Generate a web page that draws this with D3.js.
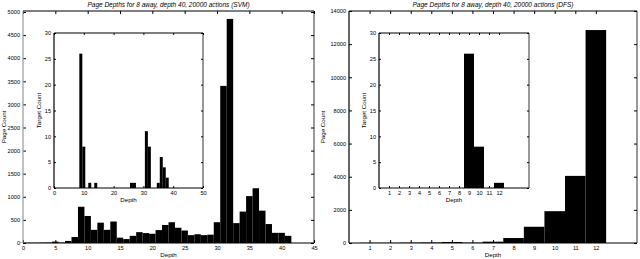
<!DOCTYPE html>
<html>
<head>
<meta charset="utf-8">
<script src="https://cdn.jsdelivr.net/npm/d3@7"></script>
<style>
body { margin: 0; background: #fff; }
svg { display: block; font-family: "Liberation Sans", Arial, sans-serif; }
</style>
</head>
<body>
<script>
// SVM run: page count per depth (main) and target count per depth (inset)
var svmDepth = [0,1,2,3,4,5,6,7,8,9,10,11,12,13,14,15,16,17,18,19,20,
                21,22,23,24,25,26,27,28,29,30,31,32,33,34,35,36,37,38,39,40,41];
var svmPages = [5,5,5,8,10,30,10,45,130,785,585,285,440,285,465,115,85,155,235,215,200,
                280,390,450,330,270,170,190,170,180,450,3400,4850,430,680,1015,1185,700,410,220,220,155];
var svmTargetDepth = [9,10,12,14,26,27,31,32,35,36,37,38];
var svmTargets     = [26,8,1,1,1,1,11,8,1,6,4,2];

// DFS run
var dfsDepth = [1,2,3,4,5,6,7,8,9,10,11,12];
var dfsPages = [10,10,20,30,60,20,80,300,980,1920,4050,12850];
var dfsTargetDepth = [9,10,11,12];
var dfsTargets     = [26,8,0,1];

// tick labels
var svmXTicks = [0,5,10,15,20,25,30,35,40,45];
var svmYTicks = [0,500,1000,1500,2000,2500,3000,3500,4000,4500,5000];
var svmInsetXTicks = [0,10,20,30,40,50];
var dfsXTicks = [1,2,3,4,5,6,7,8,9,10,11,12];
var dfsYTicks = [0,2000,4000,6000,8000,10000,12000,14000];
var insetYTicks = [0,5,10,15,20,25,30];

var titles = ["Page Depths for 8 away, depth 40, 20000 actions (SVM)",
              "Page Depths for 8 away, depth 40, 20000 actions (DFS)"];

var svg = d3.select("body").append("svg")
    .attr("width", 640)
    .attr("height", 259);

function plot(box, xDomain, yDomain, xs, ys, xTicks, yTicks, opt) {
    var x = d3.scaleLinear().domain(xDomain).range([box.x0, box.x1]);
    var y = d3.scaleLinear().domain(yDomain).range([box.y1, box.y0]);
    var g = svg.append("g");
    var tk = opt.tick || 3;

    if (opt.fillBg) {
        g.append("rect")
            .attr("x", box.x0).attr("y", box.y0)
            .attr("width", box.x1 - box.x0).attr("height", box.y1 - box.y0)
            .attr("fill", "#fff");
    }

    g.selectAll("rect.bar")
        .data(xs)
        .enter()
        .append("rect")
        .attr("class", "bar")
        .attr("x", function(d) { return x(d - 0.5); })
        .attr("width", function(d) { return x(d + 0.5) - x(d - 0.5); })
        .attr("y", function(d, i) { return y(ys[i]); })
        .attr("height", function(d, i) { return y(0) - y(ys[i]); })
        .attr("fill", "#000");

    function style(a) {
        a.select(".domain").remove();
        a.attr("font-size", 5.6).attr("font-family", null);
        a.selectAll(".tick line").attr("stroke", "#000");
        a.selectAll(".tick text").attr("fill", "#000");
    }

    g.append("g").attr("transform", "translate(0," + box.y1 + ")")
        .call(d3.axisBottom(x).tickValues(xTicks).tickSize(-tk).tickPadding(3).tickFormat(d3.format("d")))
        .call(style);
    g.append("g").attr("transform", "translate(0," + box.y0 + ")")
        .call(d3.axisTop(x).tickValues(xTicks).tickSize(-tk).tickFormat(""))
        .call(style);
    g.append("g").attr("transform", "translate(" + box.x0 + ",0)")
        .call(d3.axisLeft(y).tickValues(yTicks).tickSize(-tk).tickPadding(3).tickFormat(d3.format("d")))
        .call(style);
    g.append("g").attr("transform", "translate(" + box.x1 + ",0)")
        .call(d3.axisRight(y).tickValues(yTicks).tickSize(-tk).tickFormat(""))
        .call(style);

    // box
    g.append("line").attr("x1", box.x0).attr("x2", box.x1).attr("y1", box.y0).attr("y2", box.y0)
        .attr("stroke", "#000").attr("stroke-width", 1.2);
    g.append("line").attr("x1", box.x0).attr("x2", box.x1).attr("y1", box.y1).attr("y2", box.y1)
        .attr("stroke", "#000").attr("stroke-width", 1.2);
    g.append("line").attr("x1", box.x0).attr("x2", box.x0).attr("y1", box.y0).attr("y2", box.y1)
        .attr("stroke", opt.leftColor || "#000").attr("stroke-width", 1.2);
    g.append("line").attr("x1", box.x1).attr("x2", box.x1).attr("y1", box.y0).attr("y2", box.y1)
        .attr("stroke", "#000").attr("stroke-width", 0.8);

    g.append("text")
        .attr("x", (box.x0 + box.x1) / 2)
        .attr("y", box.y1 + opt.xLabelDy)
        .attr("text-anchor", "middle")
        .attr("font-size", 6.2)
        .text("Depth");

    g.append("text")
        .attr("transform", "translate(" + opt.yLabelX + "," + (box.y0 + box.y1) / 2 + ") rotate(-90)")
        .attr("text-anchor", "middle")
        .attr("font-size", 6.2)
        .text(opt.yLabel);

    if (opt.title) {
        g.append("text")
            .attr("x", (box.x0 + box.x1) / 2)
            .attr("y", 7)
            .attr("text-anchor", "middle")
            .attr("font-size", 6.5)
            .attr("font-style", "italic")
            .text(opt.title);
    }
}

// SVM panel
plot({x0: 23, x1: 314, y0: 11, y1: 243}, [0, 45], [0, 5000 * 232 / 231],
     svmDepth, svmPages, svmXTicks, svmYTicks,
     {title: titles[0], yLabel: "Page Count", yLabelX: 6, xLabelDy: 14, leftColor: "#999"});
plot({x0: 54, x1: 203, y0: 33, y1: 188}, [0, 50], [0, 30],
     svmTargetDepth, svmTargets, svmInsetXTicks, insetYTicks,
     {yLabel: "Target Count", yLabelX: 41, xLabelDy: 14, tick: 2, fillBg: true});

// DFS panel
plot({x0: 349, x1: 637, y0: 11, y1: 243}, [0, 14], [0, 14000],
     dfsDepth, dfsPages, dfsXTicks, dfsYTicks,
     {title: titles[1], yLabel: "Page Count", yLabelX: 325, xLabelDy: 14});
plot({x0: 379, x1: 529, y0: 33, y1: 188}, [0, 15], [0, 30],
     dfsTargetDepth, dfsTargets, dfsXTicks, insetYTicks,
     {yLabel: "Target Count", yLabelX: 366, xLabelDy: 14, tick: 2, fillBg: true});
</script>
</body>
</html>
